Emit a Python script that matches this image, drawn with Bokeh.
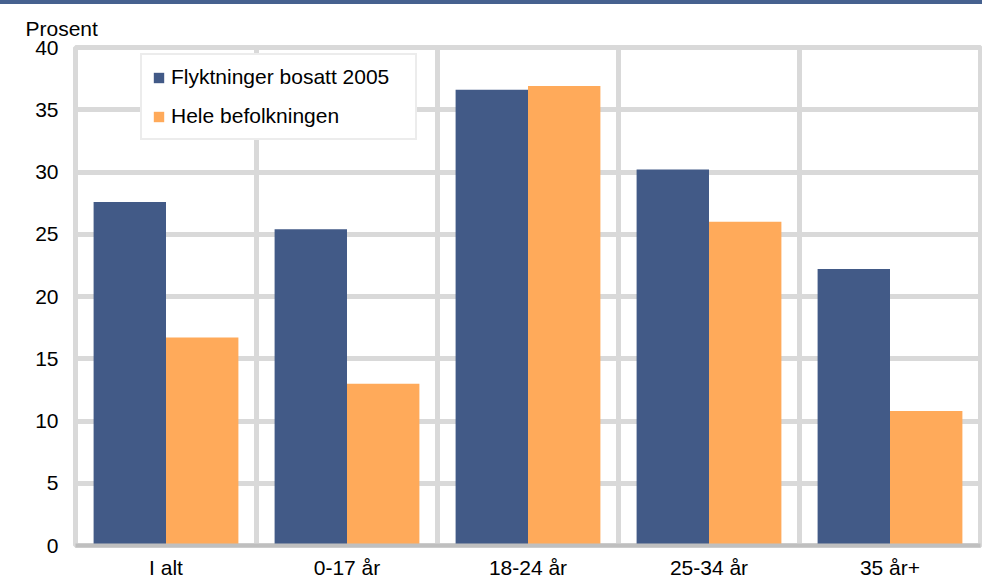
from bokeh.plotting import figure
from bokeh.models import ColumnDataSource, FixedTicker, Legend, LegendItem
from bokeh.embed import file_html
from bokeh.resources import INLINE

categories = ["I alt", "0-17 år", "18-24 år", "25-34 år", "35 år+"]
flyktninger = [27.6, 25.4, 36.6, 30.2, 22.2]
hele = [16.7, 13.0, 36.9, 26.0, 10.8]
series_names = ["Flyktninger bosatt 2005", "Hele befolkningen"]
y_ticks = [0, 5, 10, 15, 20, 25, 30, 35, 40]
unit_label = "Prosent"

BLUE = "#425a87"
ORANGE = "#ffaa5a"
GRID = "#d9d9d9"
FONT = "Liberation Sans"
FS = "21px"

idx = list(range(len(categories)))
centers = [i + 0.5 for i in idx]
src = ColumnDataSource(dict(
    x1=[c - 0.2 for c in centers],
    x2=[c + 0.2 for c in centers],
    f=flyktninger, h=hele, cat=categories))

p = figure(width=982, height=580, x_range=(0, len(categories)), y_range=(0, 40),
           output_backend="svg", toolbar_location=None,
           min_border_left=75, min_border_right=2, min_border_top=43,
           min_border_bottom=39)
p.styles = {"border-top": "4px solid #46618f"}
p.background_fill_color = "white"
p.border_fill_color = "white"
p.outline_line_color = GRID
p.outline_line_width = 5

r1 = p.vbar(x="x1", top="f", width=0.4, source=src, fill_color=BLUE, line_color=None)
r2 = p.vbar(x="x2", top="h", width=0.4, source=src, fill_color=ORANGE, line_color=None)

# axes
p.xaxis.ticker = FixedTicker(ticks=centers)
p.xaxis.major_label_overrides = {c: cat for c, cat in zip(centers, categories)}
p.xaxis.major_tick_line_color = None
p.xaxis.minor_tick_line_color = None
p.xaxis.axis_line_color = "#bfbfbf"
p.xaxis.axis_line_width = 4
p.xaxis.major_label_text_font = FONT
p.xaxis.major_label_text_font_size = FS
p.xaxis.major_label_text_color = "black"
p.xaxis.major_label_standoff = 4

p.yaxis.ticker = FixedTicker(ticks=y_ticks)
p.yaxis.axis_line_color = None
p.yaxis.major_tick_line_color = None
p.yaxis.minor_tick_line_color = None
p.yaxis.major_label_text_font = FONT
p.yaxis.major_label_text_font_size = FS
p.yaxis.major_label_text_color = "black"
p.yaxis.major_label_standoff = 11

p.xgrid.ticker = FixedTicker(ticks=[0, 1, 2, 3, 4, 5])
p.xgrid.grid_line_color = GRID
p.xgrid.grid_line_width = 5
p.ygrid.grid_line_color = GRID
p.ygrid.grid_line_width = 5
p.ygrid.level = "underlay"
p.xgrid.level = "underlay"

p.title.text = unit_label
p.title.text_font = FONT
p.title.text_font_size = FS
p.title.text_font_style = "normal"
p.title.text_color = "black"
p.title.align = "left"
p.title.vertical_align = "bottom"
p.title.offset = -50
p.title.standoff = 16

legend = Legend(items=[LegendItem(label=series_names[0], renderers=[r1]),
                       LegendItem(label=series_names[1], renderers=[r2])],
                location=(65, 405), orientation="vertical")
legend.padding = 10
legend.spacing = 15
legend.glyph_width = 13
legend.glyph_height = 13
legend.label_height = 20
legend.label_width = 234
legend.label_standoff = 6
legend.label_text_font = FONT
legend.label_text_font_size = FS
legend.label_text_color = "black"
legend.border_line_color = GRID
legend.border_line_width = 2
legend.background_fill_color = "white"
legend.background_fill_alpha = 1
legend.margin = 0
p.add_layout(legend, "center")

open("out.html", "w").write(file_html(p, INLINE))
